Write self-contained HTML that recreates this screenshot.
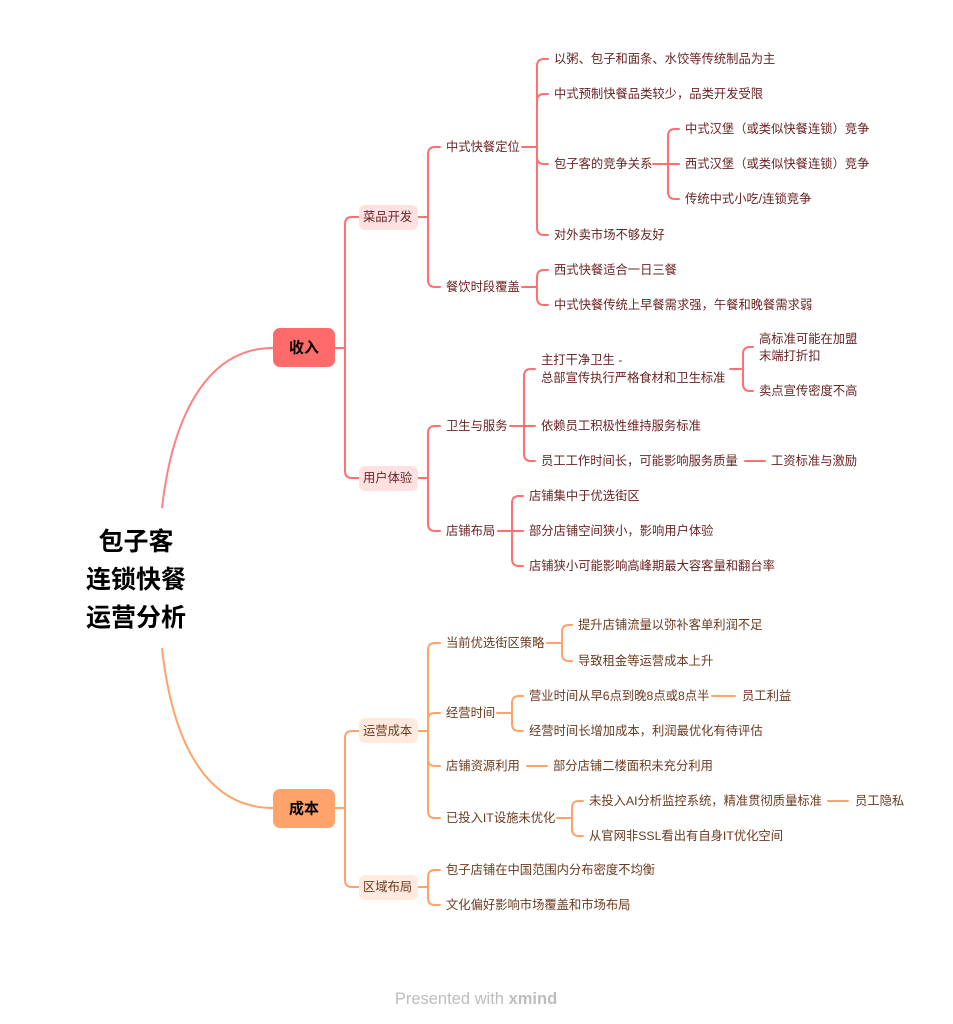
<!DOCTYPE html><html><head><meta charset="utf-8"><style>
body{margin:0;background:#fff}
svg{display:block}
text{font-family:"Liberation Sans","Noto Sans CJK SC",sans-serif;font-size:12.3px;dominant-baseline:central}
.r{fill:#6a2323}.o{fill:#6b3a1e}
</style></head><body>
<svg id="s" width="953" height="1024" viewBox="0 0 953 1024" xmlns="http://www.w3.org/2000/svg">
<g id="lines" fill="none" stroke-width="2" stroke-linecap="round"></g>
<path d="M162 508 C172 420 205 348 273 348" stroke="#ff8080" stroke-width="2" fill="none"/>
<path d="M162 648 C172 740 205 808 273 808" stroke="#ffa36b" stroke-width="2" fill="none"/>
<text x="136" y="542" text-anchor="middle" style="font-size:25px;font-weight:bold">包子客</text>
<text x="136" y="580" text-anchor="middle" style="font-size:25px;font-weight:bold">连锁快餐</text>
<text x="136" y="618" text-anchor="middle" style="font-size:25px;font-weight:bold">运营分析</text>
<rect x="273" y="328" width="62" height="39" rx="7" fill="#ff6b6b"/>
<text x="304" y="348" text-anchor="middle" style="font-size:15px;font-weight:bold">收入</text>
<rect x="273" y="789" width="62" height="39" rx="7" fill="#ffa36b"/>
<text x="304" y="809" text-anchor="middle" style="font-size:15px;font-weight:bold">成本</text>
<rect x="359" y="205" width="59" height="25" rx="6" fill="#ffe1e1"/><text class="r" x="363" y="217">菜品开发</text>
<rect x="359" y="466" width="59" height="25" rx="6" fill="#ffe1e1"/><text class="r" x="363" y="478">用户体验</text>
<rect x="359" y="718" width="59" height="25" rx="6" fill="#ffeadf"/><text class="o" x="363" y="731">运营成本</text>
<rect x="359" y="875" width="59" height="25" rx="6" fill="#ffeadf"/><text class="o" x="363" y="887">区域布局</text>
<text class="r" x="446" y="147">中式快餐定位</text>
<text class="r" x="446" y="287">餐饮时段覆盖</text>
<text class="r" x="554" y="59">以粥、包子和面条、水饺等传统制品为主</text>
<text class="r" x="554" y="94">中式预制快餐品类较少，品类开发受限</text>
<text class="r" x="554" y="164">包子客的竞争关系</text>
<text class="r" x="554" y="235">对外卖市场不够友好</text>
<text class="r" x="685" y="129">中式汉堡（或类似快餐连锁）竞争</text>
<text class="r" x="685" y="164">西式汉堡（或类似快餐连锁）竞争</text>
<text class="r" x="685" y="199">传统中式小吃/连锁竞争</text>
<text class="r" x="554" y="270">西式快餐适合一日三餐</text>
<text class="r" x="554" y="305">中式快餐传统上早餐需求强，午餐和晚餐需求弱</text>
<text class="r" x="446" y="426">卫生与服务</text>
<text class="r" x="446" y="531">店铺布局</text>
<text class="r" x="541" y="360">主打干净卫生 -</text>
<text class="r" x="541" y="378">总部宣传执行严格食材和卫生标准</text>
<text class="r" x="541" y="426">依赖员工积极性维持服务标准</text>
<text class="r" x="541" y="461">员工工作时间长，可能影响服务质量</text>
<text class="r" x="771" y="461">工资标准与激励</text>
<text class="r" x="759" y="339">高标准可能在加盟</text>
<text class="r" x="759" y="356">末端打折扣</text>
<text class="r" x="759" y="391">卖点宣传密度不高</text>
<text class="r" x="529" y="496">店铺集中于优选街区</text>
<text class="r" x="529" y="531">部分店铺空间狭小，影响用户体验</text>
<text class="r" x="529" y="566">店铺狭小可能影响高峰期最大容客量和翻台率</text>
<text class="o" x="446" y="643">当前优选街区策略</text>
<text class="o" x="446" y="713">经营时间</text>
<text class="o" x="446" y="766">店铺资源利用</text>
<text class="o" x="446" y="818">已投入IT设施未优化</text>
<text class="o" x="578" y="625">提升店铺流量以弥补客单利润不足</text>
<text class="o" x="578" y="661">导致租金等运营成本上升</text>
<text class="o" x="529" y="696">营业时间从早6点到晚8点或8点半</text>
<text class="o" x="742" y="696">员工利益</text>
<text class="o" x="529" y="731">经营时间长增加成本，利润最优化有待评估</text>
<text class="o" x="553" y="766">部分店铺二楼面积未充分利用</text>
<text class="o" x="589" y="801">未投入AI分析监控系统，精准贯彻质量标准</text>
<text class="o" x="855" y="801">员工隐私</text>
<text class="o" x="589" y="836">从官网非SSL看出有自身IT优化空间</text>
<text class="o" x="446" y="870">包子店铺在中国范围内分布密度不均衡</text>
<text class="o" x="446" y="905">文化偏好影响市场覆盖和市场布局</text>
<text x="476" y="999" text-anchor="middle" style="font-size:16.5px;fill:#bdbdbd">Presented with <tspan style="font-weight:bold">xmind</tspan></text>
</svg>
<script>
var g=document.getElementById('lines');
function br(c,px,py,vx,ys,cx){var s='M'+px+' '+py+'L'+vx+' '+py;
ys.forEach(function(y){var r=Math.min(7,Math.abs(y-py));
if(Math.abs(y-py)<1){s+='M'+vx+' '+py+'L'+cx+' '+y;return;}
var sg=y>py?1:-1;s+='M'+vx+' '+py+'L'+vx+' '+(y-sg*r)+'Q'+vx+' '+y+' '+(vx+r)+' '+y+'L'+cx+' '+y;});
var p=document.createElementNS('http://www.w3.org/2000/svg','path');p.setAttribute('d',s);p.setAttribute('stroke',c);g.appendChild(p);}
var R='#ff7070',O='#ffa36b';
br(R,335,348,345,[217,478],359);
br(R,418,217,428,[147,287],440);
br(R,522,147,537,[59,94,164,235],548);
br(R,653,164,668,[129,164,199],679);
br(R,522,287,537,[270,305],548);
br(R,418,478,428,[426,531],440);
br(R,510,426,524,[369,426,461],535);
br(R,730,369,743,[347,391],753);
br(R,745,461,745,[461],765);
br(R,498,531,512,[496,531,566],523);
br(O,335,808,345,[731,887],359);
br(O,418,731,428,[643,713,766,818],440);
br(O,547,643,562,[625,661],572);
br(O,497,713,512,[696,731],523);
br(O,712,696,712,[696],735);
br(O,527,766,527,[766],547);
br(O,557,818,572,[801,836],583);
br(O,828,801,828,[801],848);
br(O,418,887,428,[870,905],440);
</script>
</body></html>
